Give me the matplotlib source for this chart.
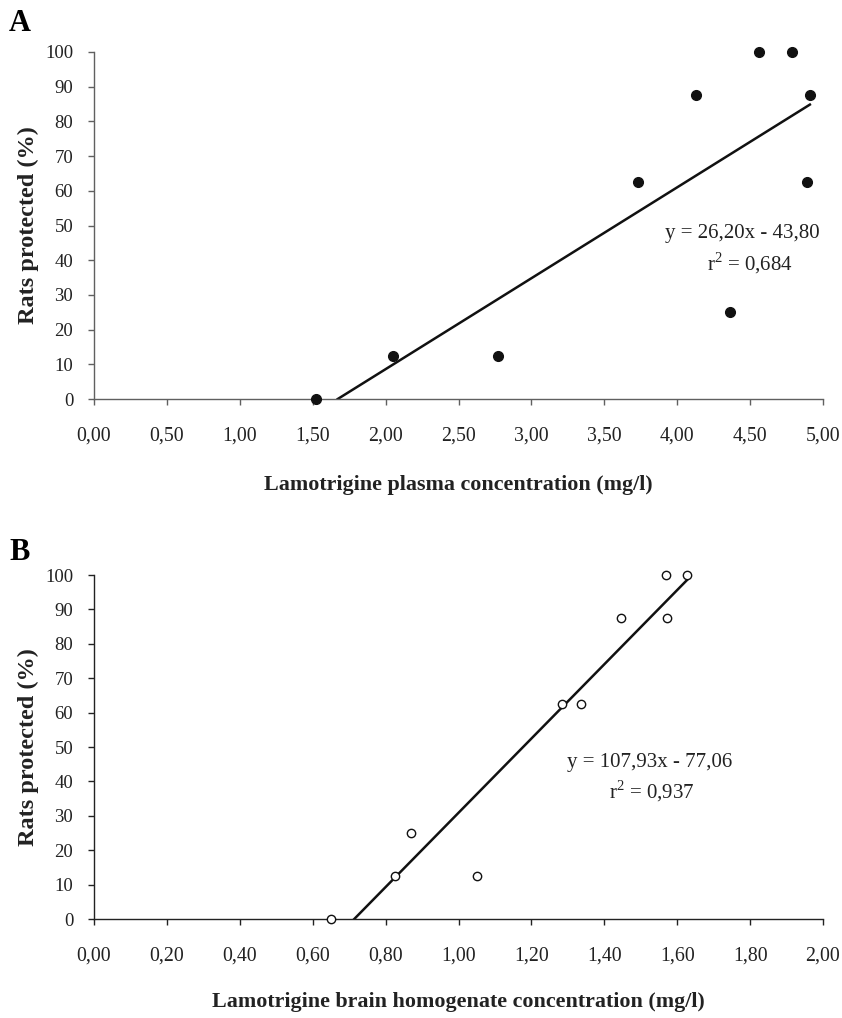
import matplotlib
matplotlib.use("Agg")
import matplotlib.pyplot as plt
import numpy as np

# Panel A: plasma concentration (mg/l) vs rats protected (%)
plasma_conc = [1.52, 2.05, 2.77, 3.73, 4.13, 4.56, 4.79, 4.91, 4.89, 4.36]
plasma_prot = [0, 12.5, 12.5, 62.5, 87.5, 100, 100, 87.5, 62.5, 25]
plasma_slope, plasma_icpt = 26.20, -43.80
plasma_eq = ["y = 26,20x - 43,80", "r$^{2}$ = 0,684"]

# Panel B: brain homogenate concentration (mg/l) vs rats protected (%)
brain_conc = [0.65, 0.827, 0.870, 1.052, 1.285, 1.337, 1.447, 1.573, 1.568, 1.628]
brain_prot = [0, 12.5, 25, 12.5, 62.5, 62.5, 87.5, 87.5, 100, 100]
brain_slope, brain_icpt = 107.93, -77.06
brain_eq = ["y = 107,93x - 77,06", "r$^{2}$ = 0,937"]

plasma_xticks = [0, 0.5, 1.0, 1.5, 2.0, 2.5, 3.0, 3.5, 4.0, 4.5, 5.0]
brain_xticks = [0, 0.2, 0.4, 0.6, 0.8, 1.0, 1.2, 1.4, 1.6, 1.8, 2.0]
yticks = [0, 10, 20, 30, 40, 50, 60, 70, 80, 90, 100]

plt.rcParams['font.family'] = ['Liberation Serif', 'DejaVu Serif']
plt.rcParams['mathtext.fontset'] = 'custom'
plt.rcParams['mathtext.rm'] = 'Liberation Serif'

W, H = 842, 1018
fig = plt.figure(figsize=(W / 100, H / 100), dpi=100)

def frac(l, t, r, b):
    return [l / W, 1 - b / H, (r - l) / W, (b - t) / H]

def style(ax, xticks, spine_color):
    ax.set_ylim(0, 100)
    ax.set_xlim(xticks[0], xticks[-1])
    for s in ['top', 'right']:
        ax.spines[s].set_visible(False)
    for s in ['left', 'bottom']:
        ax.spines[s].set_color(spine_color)
        ax.spines[s].set_linewidth(1.0)
    ax.set_yticks(yticks)
    ax.set_yticklabels([str(v) for v in yticks])
    ax.set_xticks(xticks)
    ax.set_xticklabels([f"{v:.2f}".replace('.', ',') for v in xticks])
    ax.tick_params(axis='both', direction='out', length=4, width=1.0,
                   color=spine_color, labelcolor='#222222')
    ax.tick_params(axis='x', pad=16, labelsize=14.3)
    ax.tick_params(axis='y', pad=11, labelsize=13.5)
    ax.set_ylabel("Rats protected (%)", fontsize=17.5, fontweight='bold',
                  color='#222222', labelpad=4)

# Panel A
axA = fig.add_axes(frac(94, 52, 823, 399))
style(axA, plasma_xticks, '#606060')
axA.plot(plasma_conc, plasma_prot, 'o', color='#111111', markersize=7,
         clip_on=False, zorder=3)
xa = np.array([-plasma_icpt / plasma_slope, max(plasma_conc)])
axA.plot(xa, plasma_slope * xa + plasma_icpt, color='#111111', lw=1.8)
axA.text(4.45, 47.8, plasma_eq[0], ha='center', va='center', fontsize=15, color='#222222')
axA.text(4.50, 39.0, plasma_eq[1], ha='center', va='center', fontsize=15, color='#222222')
axA.set_xlabel("Lamotrigine plasma concentration (mg/l)", fontsize=15.8,
               fontweight='bold', color='#222222', labelpad=21)

# Panel B
axB = fig.add_axes(frac(94, 575, 823, 919))
style(axB, brain_xticks, '#222222')
axB.plot(brain_conc, brain_prot, 'o', mfc='white', mec='#111111', mew=1.0,
         markersize=6, clip_on=False, zorder=3)
xb = np.array([-brain_icpt / brain_slope, max(brain_conc)])
axB.plot(xb, brain_slope * xb + brain_icpt, color='#111111', lw=1.8)
axB.text(1.525, 45.4, brain_eq[0], ha='center', va='center', fontsize=15, color='#222222')
axB.text(1.530, 37.2, brain_eq[1], ha='center', va='center', fontsize=15, color='#222222')
axB.set_xlabel("Lamotrigine brain homogenate concentration (mg/l)", fontsize=15.8,
               fontweight='bold', color='#222222', labelpad=19)

fig.text(9 / W, 1 - 23 / H, "A", fontsize=22, fontweight='bold', va='center', ha='left')
fig.text(9 / W, 1 - 553 / H, "B", fontsize=22, fontweight='bold', va='center', ha='left')

fig.savefig("out.png", dpi=100)
